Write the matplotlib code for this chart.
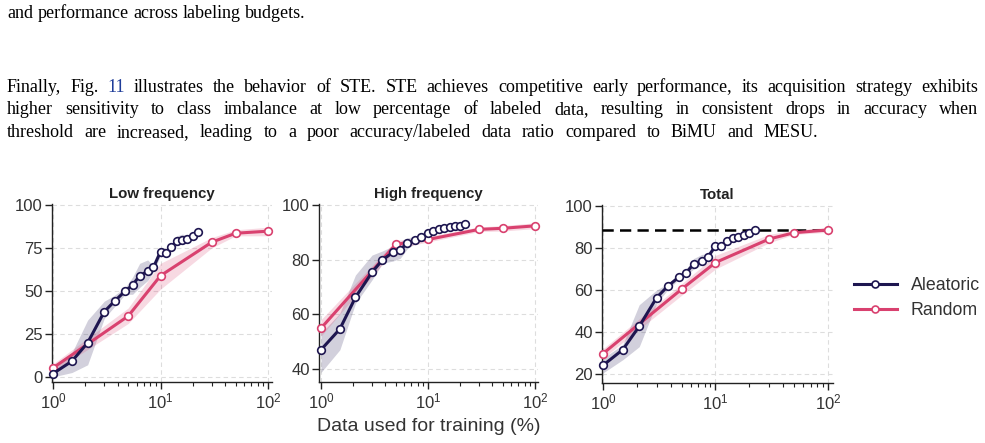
import matplotlib
matplotlib.use("Agg")
import matplotlib.pyplot as plt
from matplotlib.lines import Line2D
import numpy as np

# ---------------- data ----------------
x_ale = [1, 1.5, 2.1, 3.0, 3.75, 4.7, 5.5, 6.4, 7.6, 8.6, 10, 11.2, 12.6, 14.2, 16, 17.8, 19.9, 22.3]
x_rnd = [1, 5, 10, 30, 50, 100]

# Low frequency
low_ale = [1.9, 9.1, 19.8, 37.9, 44.1, 49.9, 53.4, 58.8, 61.4, 63.7, 72.8, 72.2, 75.7, 78.8, 79.4, 80.2, 82.1, 84.5]
low_ale_lo = [0.0, 2.5, 7.0, 34, 41, 48, 48, 52, 56, 61, 70.5, 70.5, 73.5, 76.5, 77.5, 78.5, 80.5, 83.5]
low_ale_hi = [4.0, 14, 33, 44, 47.5, 52, 58, 66, 68, 64.5, 74.5, 74, 77.5, 82, 83, 82, 83.5, 85.5]
low_rnd = [5.2, 35.3, 58.8, 78.3, 83.5, 84.7]
low_rnd_lo = [3.0, 31, 51, 75, 82, 82]
low_rnd_hi = [7.5, 40, 66, 81, 85.5, 87]

# High frequency
high_ale = [47.0, 54.6, 66.2, 75.4, 79.9, 82.7, 83.7, 86.0, 87.2, 88.2, 89.6, 90.5, 91.2, 91.6, 91.8, 92.3, 92.4, 93.2]
high_ale_lo = [38.7, 47, 64, 72.6, 78.7, 79.5, 80.5, 84, 86, 87, 88.8, 90, 90.7, 91.1, 91.3, 91.8, 91.9, 92.7]
high_ale_hi = [53, 60.4, 74.4, 81.7, 83.2, 85, 86.6, 88, 88.5, 89.5, 90.8, 91, 91.7, 92.1, 92.3, 92.8, 92.9, 93.7]
high_rnd = [54.9, 85.6, 87.4, 91.1, 91.5, 92.4]
high_rnd_lo = [52, 84, 86.5, 90.3, 90.5, 91.4]
high_rnd_hi = [58, 87, 88.5, 92, 92.5, 93.5]

# Total
tot_ale = [24.1, 31.6, 42.7, 56.4, 61.7, 66.1, 68.3, 72.4, 74.0, 75.9, 81.0, 81.1, 83.4, 85.0, 85.4, 86.2, 87.0, 88.6]
tot_ale_lo = [20.5, 26.8, 33, 53.7, 60, 65, 67, 70, 72, 75, 80, 80.6, 82.9, 84.5, 84.9, 85.7, 86.5, 88.1]
tot_ale_hi = [27.5, 34, 53, 60, 63, 67, 70, 75, 77, 77, 82, 81.6, 83.9, 85.5, 85.9, 86.7, 87.5, 89.1]
tot_rnd = [29.7, 60.4, 73.1, 84.3, 87.3, 88.6]
tot_rnd_lo = [27.5, 57.5, 70, 82.5, 86.5, 87.5]
tot_rnd_hi = [32, 63, 76.5, 86.5, 88.5, 89.8]
full_data_ref = 88.6

titles = ["Low frequency", "High frequency", "Total"]
yticks = [[0, 25, 50, 75, 100], [40, 60, 80, 100], [20, 40, 60, 80, 100]]
ylims = [(-3, 100.5), (35.2, 100.4), (15.7, 100.5)]
xlims = [(0.979, 108.9), (0.958, 106.7), (0.98, 110.8)]
legend_labels = ["Aleatoric", "Random"]

C_ALE = "#1e1650"
C_RND = "#d9416f"

# ---------------- figure ----------------
W, H = 985, 443
fig = plt.figure(figsize=(W / 100, H / 100), dpi=100)
plt.rcParams['font.family'] = ['Liberation Sans', 'DejaVu Sans']
plt.rcParams['mathtext.fontset'] = 'custom'
plt.rcParams['mathtext.rm'] = 'Liberation Sans'
plt.rcParams['mathtext.it'] = 'Liberation Sans:italic'
plt.rcParams['mathtext.bf'] = 'Liberation Sans:bold'

# paragraph text (justified manually)
SERIF = 'Liberation Serif'
FS = 13.0
renderer = fig.canvas.get_renderer()


def word_width(w):
    t = fig.text(0, 0, w, fontsize=FS, family=SERIF)
    bb = t.get_window_extent(renderer=renderer)
    t.remove()
    return bb.width


def place_line(words, y_px, x0=7, x1=None):
    widths = [word_width(w if isinstance(w, str) else w[0]) for w in words]
    if x1 is None:
        space = word_width("a b") - word_width("ab")
    else:
        space = (x1 - x0 - sum(widths)) / (len(words) - 1)
    x = x0
    for w, wd in zip(words, widths):
        if isinstance(w, tuple):
            txt, col = w
        else:
            txt, col = w, "black"
        fig.text(x / W, 1 - y_px / H, txt, fontsize=FS, family=SERIF, color=col,
                 ha='left', va='baseline')
        x += wd + space


place_line("and performance across labeling budgets.".split(), 18)
l1 = ["Finally,", "Fig.", ("11", "#1f3d99")] + \
    "illustrates the behavior of STE. STE achieves competitive early performance, its acquisition strategy exhibits".split()
place_line(l1, 92, x1=978)
place_line("higher sensitivity to class imbalance at low percentage of labeled data, resulting in consistent drops in accuracy when".split(), 114.5, x1=978)
place_line("threshold are increased, leading to a poor accuracy/labeled data ratio compared to BiMU and MESU.".split(), 137, x1=818)

# axes
boxes = [(52, 272, 204, 382), (319, 538, 204, 382), (602, 833, 205, 383)]
data = [
    (low_ale, low_ale_lo, low_ale_hi, low_rnd, low_rnd_lo, low_rnd_hi),
    (high_ale, high_ale_lo, high_ale_hi, high_rnd, high_rnd_lo, high_rnd_hi),
    (tot_ale, tot_ale_lo, tot_ale_hi, tot_rnd, tot_rnd_lo, tot_rnd_hi),
]

for i, ((l, r, t, b), d) in enumerate(zip(boxes, data)):
    ax = fig.add_axes([l / W, 1 - b / H, (r - l) / W, (b - t) / H])
    ya, yalo, yahi, yr, yrlo, yrhi = d
    ax.fill_between(x_ale, yalo, yahi, color=C_ALE, alpha=0.2, lw=0, zorder=2)
    ax.fill_between(x_rnd, yrlo, yrhi, color=C_RND, alpha=0.2, lw=0, zorder=2)
    ax.plot(x_rnd, yr, color=C_RND, lw=2.2, marker='o', ms=5.5, mfc='white',
            mec=C_RND, mew=1.2, zorder=4, clip_on=False)
    ax.plot(x_ale, ya, color=C_ALE, lw=2.2, marker='o', ms=5.5, mfc='white',
            mec=C_ALE, mew=1.2, zorder=5, clip_on=False)
    if i == 2:
        ax.axhline(full_data_ref, color='black', lw=1.8, ls=(0, (4.5, 2.5)), zorder=3)
    ax.set_xscale('log')
    ax.set_xlim(*xlims[i])
    ax.set_ylim(*ylims[i])
    ax.set_yticks(yticks[i])
    ax.set_xticks([1, 10, 100])
    ax.grid(True, which='major', color='#dddddd', ls=(0, (4, 3)), lw=0.8, zorder=0)
    for s in ['top', 'right']:
        ax.spines[s].set_visible(False)
    for s in ['left', 'bottom']:
        ax.spines[s].set_color('#222222')
        ax.spines[s].set_linewidth(1.0)
    ax.tick_params(which='major', length=5, width=1, labelsize=12, colors='#222222',
                   labelcolor='#333333', pad=1.5)
    ax.tick_params(which='minor', length=3, width=0.8, colors='#222222')
    ax.set_title(titles[i], fontsize=10.8, fontweight='bold', color='#222222', pad=4)
    if i == 1:
        ax.set_xlabel("Data used for training (%)", fontsize=14, color='#333333', labelpad=5)

handles = [
    Line2D([], [], color=C_ALE, lw=2.2, marker='o', ms=5, mfc='white', mec=C_ALE, mew=1.2),
    Line2D([], [], color=C_RND, lw=2.2, marker='o', ms=5, mfc='white', mec=C_RND, mew=1.2),
]
fig.legend(handles, legend_labels, loc='center left', bbox_to_anchor=(838 / W, 1 - 298 / H),
           frameon=False, fontsize=12.8, handlelength=2.4, labelspacing=0.45, handletextpad=0.8,
           labelcolor='#333333')

fig.savefig("out.png", dpi=100)
